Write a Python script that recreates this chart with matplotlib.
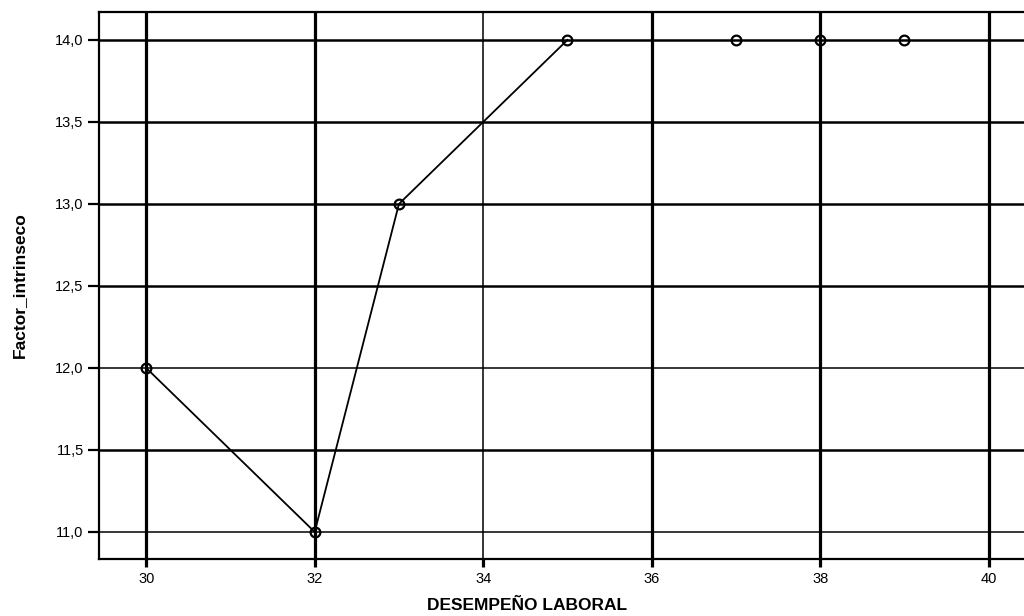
import numpy as np
from matplotlib import pyplot as plt

# data
desempeno = [30, 32, 33, 35, 37, 38, 39]
factor = [12.0, 11.0, 13.0, 14.0, 14.0, 14.0, 14.0]
n_linked = 4  # only the first points are joined by the line

x_ticks = [30, 32, 34, 36, 38, 40]
y_ticks = [11.0, 11.5, 12.0, 12.5, 13.0, 13.5, 14.0]
thin_x = [34]
thin_y = [12.0, 11.0]

plt.rcParams['font.family'] = ['Liberation Sans', 'DejaVu Sans']

fig = plt.figure(figsize=[10.24, 6.16], dpi=100)
ax = fig.add_axes([0.0967, 0.0925, 0.91, 0.888])

for xv in x_ticks:
    ax.axvline(xv, color='black', lw=1.1 if xv in thin_x else 2.3, zorder=1)
for yv in y_ticks:
    ax.axhline(yv, color='black', lw=1.1 if yv in thin_y else 1.8, zorder=1)

ax.plot(desempeno[:n_linked], factor[:n_linked], color='black', lw=1.3, zorder=2)
ax.plot(desempeno, factor, linestyle='none', marker='o', markersize=7,
        markerfacecolor='none', markeredgecolor='black', markeredgewidth=1.6, zorder=3)

ax.set_xlim(29.44, 40.5)
ax.set_ylim(10.835, 14.17)
ax.set_xticks(x_ticks)
ax.set_yticks(y_ticks)
ax.set_yticklabels([f"{v:.1f}".replace('.', ',') for v in y_ticks])
ax.tick_params(axis='y', length=8, width=1.6, labelsize=10.5, pad=3)
ax.tick_params(axis='x', length=6, width=2.3, labelsize=10.5, pad=3)

for side in ['left', 'top', 'bottom']:
    ax.spines[side].set_linewidth(1.6)
ax.spines['right'].set_visible(False)

ax.set_xlabel("DESEMPEÑO LABORAL", fontsize=12.5, fontweight='bold', va='center')
ax.xaxis.set_label_coords(527 / 1024, 1 - 606 / 616, transform=fig.transFigure)
ax.set_ylabel("Factor_intrinseco", fontsize=12.5, fontweight='bold', va='center')
ax.yaxis.set_label_coords(19 / 1024, 1 - 285 / 616, transform=fig.transFigure)

plt.savefig("out.png", dpi=100)
